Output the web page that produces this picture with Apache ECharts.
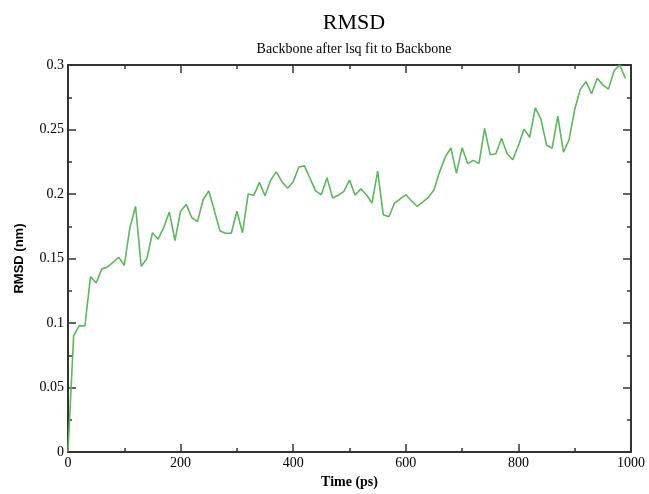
<!DOCTYPE html>
<html>
<head>
<meta charset="utf-8">
<script src="https://cdn.jsdelivr.net/npm/echarts@6/dist/echarts.min.js"></script>
<style>html,body{margin:0;padding:0;background:#fff;overflow:hidden}#c{width:649px;height:494px}</style>
</head>
<body>
<div id="c"></div>
<script>
const times = [0,10,20,30,40,50,60,70,80,90,100,110,120,130,140,150,160,170,180,190,200,210,220,230,240,250,260,270,280,290,300,310,320,330,340,350,360,370,380,390,400,410,420,430,440,450,460,470,480,490,500,510,520,530,540,550,560,570,580,590,600,610,620,630,640,650,660,670,680,690,700,710,720,730,740,750,760,770,780,790,800,810,820,830,840,850,860,870,880,890,900,910,920,930,940,950,960,970,980,990];
const rmsd = [0.0005,0.090,0.098,0.0977,0.136,0.131,0.142,0.1435,0.147,0.151,0.1447,0.174,0.1905,0.144,0.1498,0.170,0.165,0.174,0.186,0.164,0.1867,0.192,0.1816,0.1786,0.1956,0.2025,0.187,0.1714,0.1696,0.1696,0.1867,0.170,0.200,0.199,0.209,0.1986,0.2108,0.2172,0.2096,0.2045,0.2096,0.221,0.2218,0.212,0.2025,0.1994,0.2126,0.197,0.199,0.202,0.2108,0.199,0.204,0.1994,0.193,0.2177,0.184,0.1824,0.193,0.1963,0.1994,0.1948,0.1905,0.1938,0.1974,0.2032,0.2172,0.2286,0.2358,0.216,0.2358,0.2236,0.2261,0.2236,0.2508,0.2304,0.2312,0.2432,0.2312,0.2266,0.2375,0.2503,0.244,0.2668,0.258,0.238,0.2355,0.2604,0.2325,0.2421,0.2655,0.2813,0.2871,0.2777,0.2897,0.2846,0.2813,0.2955,0.2999,0.2897];
const xTicks = [0,200,400,600,800,1000];
const yTicks = [0,0.05,0.1,0.15,0.2,0.25,0.3];

const serif = '"Liberation Serif","DejaVu Serif",serif';
const chart = echarts.init(document.getElementById('c'), null, {renderer:'canvas'});
const lineStyle = {color:'#333', width:2};
const tick = {show:true, inside:true, length:8, lineStyle:{color:'#333', width:1.5}};
const minor = {show:true, splitNumber:2, length:4, lineStyle:{color:'#333', width:1.5}};
function xAx(pos, labels){
  return {type:'value', position:pos, min:xTicks[0], max:xTicks[xTicks.length-1], interval:200,
    axisLine:{show:true, onZero:false, lineStyle}, axisTick:tick, minorTick:minor,
    splitLine:{show:false},
    axisLabel:{show:labels, color:'#000', fontFamily:serif, fontSize:14, margin:4,
      formatter: v => String(v)},
    name: labels ? 'Time (ps)' : '', nameLocation:'middle', nameGap:22,
    nameTextStyle:{color:'#000', fontFamily:serif, fontSize:14, fontWeight:'bold'}};
}
function yAx(pos, labels){
  return {type:'value', position:pos, min:yTicks[0], max:yTicks[yTicks.length-1], interval:0.05,
    axisLine:{show:true, onZero:false, lineStyle}, axisTick:tick, minorTick:minor,
    splitLine:{show:false},
    axisLabel:{show:labels, color:'#000', fontFamily:serif, fontSize:14, margin:4,
      formatter: v => String(Math.round(v*100)/100)},
    name: labels ? 'RMSD (nm)' : '', nameLocation:'middle', nameGap:42,
    nameTextStyle:{color:'#000', fontFamily:'"Liberation Sans",Arial,sans-serif', fontSize:13, fontWeight:'bold'}};
}
chart.setOption({
  animation:false,
  backgroundColor:'#fff',
  title:[
    {text:'RMSD', left:349, top:7, textAlign:'center',
     textStyle:{fontFamily:serif, fontSize:22, fontWeight:'normal', color:'#000'}},
    {text:'Backbone after lsq fit to Backbone', left:349, top:37, textAlign:'center',
     textStyle:{fontFamily:serif, fontSize:14, fontWeight:'normal', color:'#000'}}
  ],
  grid:{left:68, right:18, top:65, bottom:36, containLabel:false},
  xAxis:[xAx('bottom', true), xAx('top', false)],
  yAxis:[yAx('left', true), yAx('right', false)],
  series:[{type:'line', xAxisIndex:0, yAxisIndex:0, showSymbol:false, symbol:'none',
    data: times.map((t,i)=>[t, rmsd[i]]),
    lineStyle:{color:'#5cb85c', width:1.6}}]
});
</script>
</body>
</html>
